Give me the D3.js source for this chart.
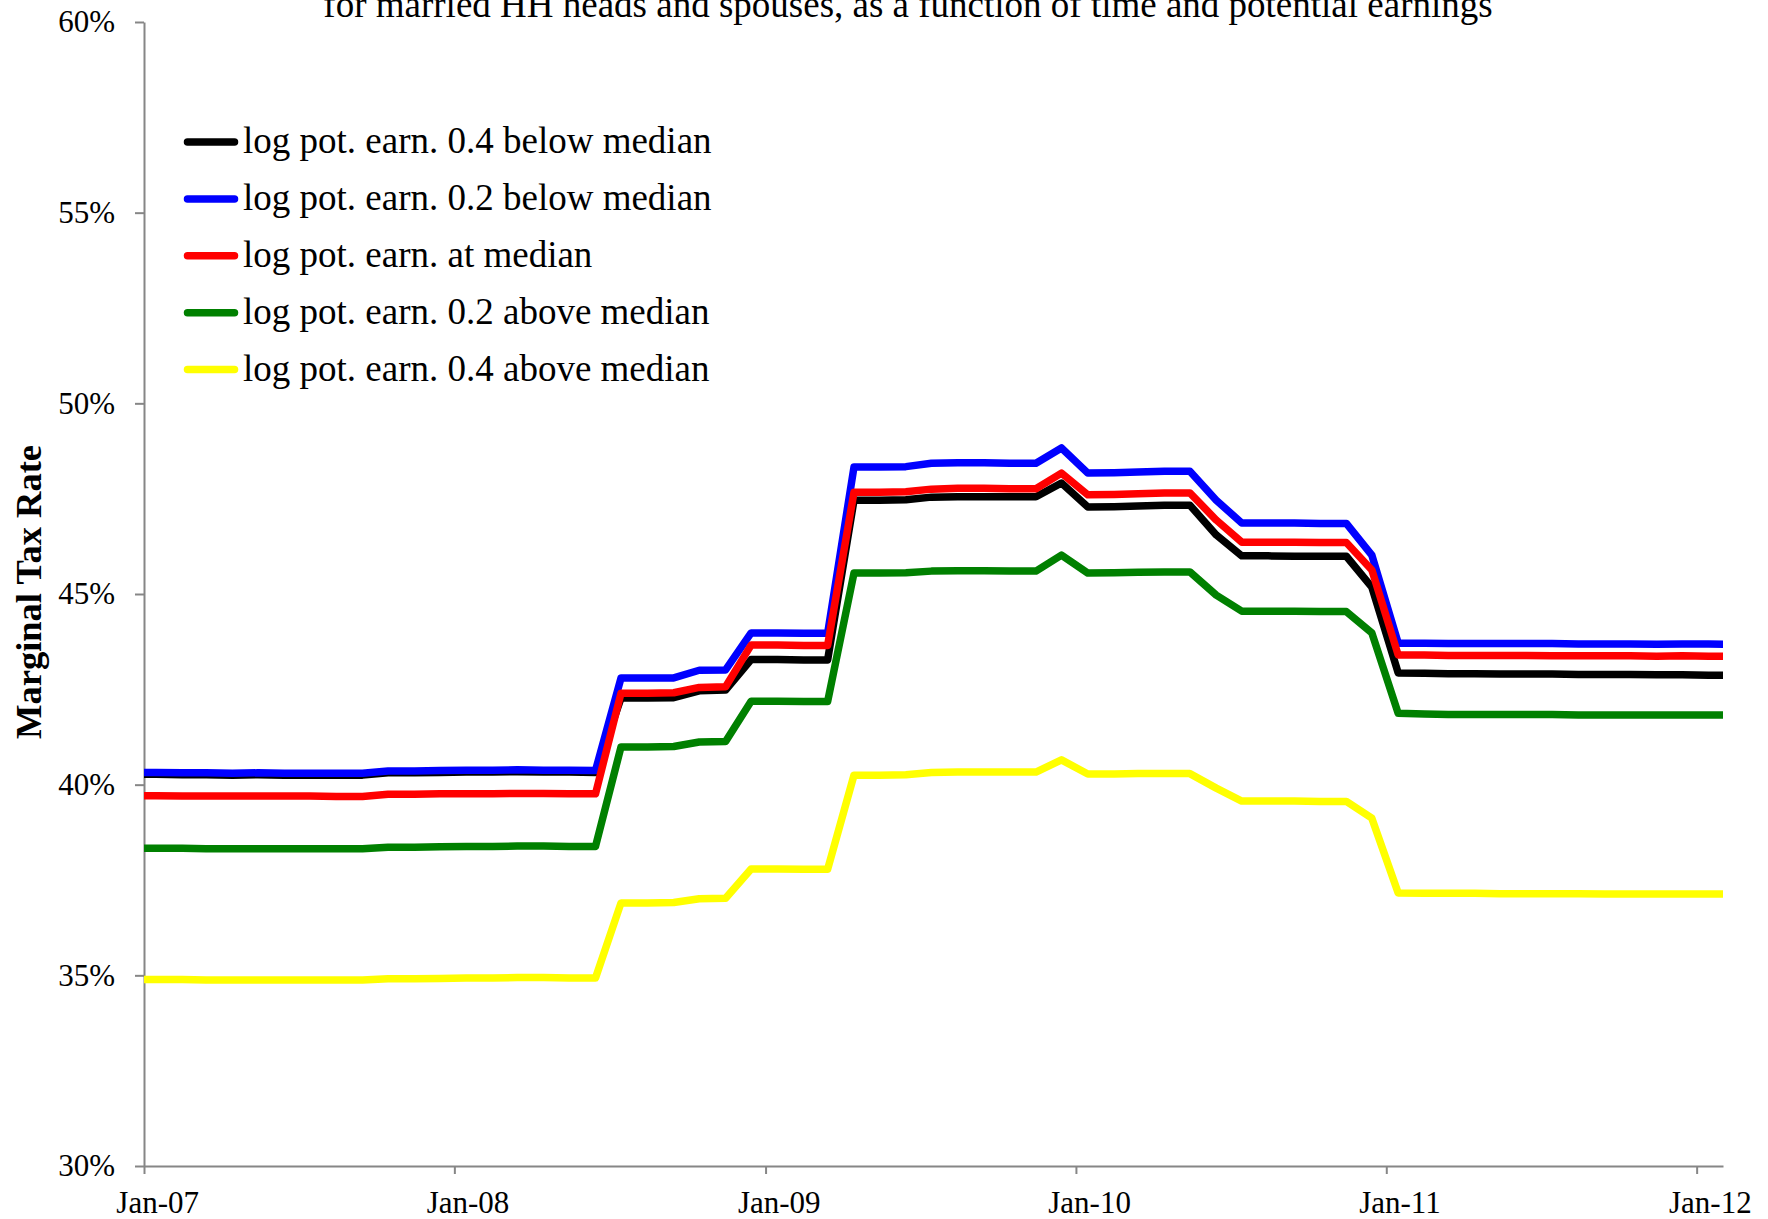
<!DOCTYPE html>
<html>
<head>
<meta charset="utf-8">
<script src="https://cdn.jsdelivr.net/npm/d3@7"></script>
<style>
  body { margin: 0; background: #fff; }
  text { font-family: "Times New Roman", "Liberation Serif", serif; }
</style>
</head>
<body>
<div id="chart"></div>
<script>
// data: monthly marginal tax rates (%), Dec-06 .. Feb-12
let months = d3.timeMonth.range(new Date(2006, 11, 1), new Date(2012, 2, 1))
    .map(d => new Date(d.getFullYear(), d.getMonth(), 15));

let seriesNames = [
    "log pot. earn. 0.4 below median",
    "log pot. earn. 0.2 below median",
    "log pot. earn. at median",
    "log pot. earn. 0.2 above median",
    "log pot. earn. 0.4 above median"
];
let seriesColors = ["#000000", "#0000ff", "#ff0000", "#008000", "#ffff00"];

let below04 = [40.27,
    40.27, 40.26, 40.26, 40.25, 40.26, 40.25, 40.25, 40.25, 40.25, 40.31, 40.31, 40.32,
    40.33, 40.33, 40.34, 40.33, 40.33, 40.32, 42.27, 42.27, 42.28, 42.46, 42.48, 43.28,
    43.28, 43.27, 43.27, 47.46, 47.46, 47.47, 47.54, 47.55, 47.55, 47.55, 47.55, 47.91,
    47.28, 47.29, 47.31, 47.33, 47.33, 46.55, 46.00, 46.00, 45.99, 45.99, 45.99, 45.18,
    42.93, 42.92, 42.91, 42.91, 42.90, 42.90, 42.90, 42.89, 42.89, 42.89, 42.88, 42.88,
    42.87, 42.87];
let below02 = [40.32,
    40.32, 40.31, 40.31, 40.30, 40.31, 40.30, 40.30, 40.30, 40.30, 40.36, 40.36, 40.37,
    40.38, 40.38, 40.39, 40.38, 40.38, 40.37, 42.80, 42.80, 42.80, 43.00, 43.01, 43.98,
    43.98, 43.97, 43.97, 48.33, 48.33, 48.34, 48.43, 48.44, 48.44, 48.43, 48.43, 48.83,
    48.17, 48.18, 48.20, 48.22, 48.22, 47.46, 46.86, 46.86, 46.86, 46.85, 46.85, 46.02,
    43.71, 43.71, 43.70, 43.70, 43.70, 43.70, 43.70, 43.69, 43.69, 43.69, 43.68, 43.69,
    43.69, 43.68];
let atMedian = [39.71,
    39.71, 39.70, 39.70, 39.70, 39.70, 39.70, 39.70, 39.69, 39.69, 39.75, 39.75, 39.76,
    39.76, 39.76, 39.77, 39.77, 39.76, 39.76, 42.40, 42.40, 42.41, 42.55, 42.57, 43.66,
    43.66, 43.65, 43.65, 47.67, 47.67, 47.68, 47.75, 47.77, 47.77, 47.76, 47.76, 48.17,
    47.60, 47.61, 47.63, 47.65, 47.65, 46.94, 46.36, 46.36, 46.36, 46.35, 46.35, 45.63,
    43.40, 43.40, 43.39, 43.39, 43.39, 43.39, 43.38, 43.38, 43.38, 43.38, 43.37, 43.38,
    43.37, 43.37];
let above02 = [38.33,
    38.33, 38.33, 38.32, 38.32, 38.32, 38.32, 38.32, 38.32, 38.32, 38.36, 38.36, 38.37,
    38.38, 38.38, 38.39, 38.39, 38.38, 38.38, 40.99, 40.99, 41.00, 41.12, 41.13, 42.19,
    42.19, 42.18, 42.18, 45.55, 45.55, 45.56, 45.60, 45.61, 45.61, 45.60, 45.60, 46.02,
    45.55, 45.56, 45.57, 45.58, 45.58, 44.97, 44.55, 44.55, 44.55, 44.54, 44.54, 43.98,
    41.87, 41.85, 41.84, 41.84, 41.84, 41.84, 41.84, 41.83, 41.83, 41.83, 41.83, 41.83,
    41.83, 41.83];
let above04 = [34.89,
    34.89, 34.89, 34.88, 34.88, 34.88, 34.88, 34.88, 34.88, 34.88, 34.91, 34.91, 34.92,
    34.93, 34.93, 34.94, 34.94, 34.93, 34.93, 36.90, 36.90, 36.91, 37.01, 37.02, 37.79,
    37.79, 37.78, 37.78, 40.25, 40.25, 40.26, 40.32, 40.33, 40.33, 40.33, 40.33, 40.65,
    40.28, 40.28, 40.29, 40.29, 40.29, 39.91, 39.57, 39.57, 39.57, 39.56, 39.56, 39.12,
    37.16, 37.15, 37.15, 37.15, 37.14, 37.14, 37.14, 37.14, 37.13, 37.13, 37.13, 37.13,
    37.13, 37.13];

let seriesValues = [below04, below02, atMedian, above02, above04];
let yTicks = [30, 35, 40, 45, 50, 55, 60];
let xTickYears = [2007, 2008, 2009, 2010, 2011, 2012];

// layout
const width = 1768, height = 1219;
const plotLeft = 144, plotRight = 1723, plotTop = 22, plotBottom = 1166;
const axisColor = '#868686';

const svg = d3.select('#chart')
    .append('svg')
    .attr('width', width)
    .attr('height', height);

const x = d3.scaleTime()
    .domain([new Date(2007, 0, 1), new Date(2012, 1, 1)])
    .range([plotLeft, plotRight]);

const y = d3.scaleLinear()
    .domain([30, 60])
    .range([plotBottom, plotTop]);

// title (top is cut off in the original)
svg.append('text')
    .attr('x', 908)
    .attr('y', 17)
    .attr('text-anchor', 'middle')
    .style('font-size', '37px')
    .text('for married HH heads and spouses, as a function of time and potential earnings');

// y axis
const yAxis = svg.append('g')
    .attr('transform', `translate(${plotLeft},0)`)
    .call(d3.axisLeft(y)
        .tickValues(yTicks)
        .tickFormat(d => d + '%')
        .tickSize(9)
        .tickSizeOuter(0)
        .tickPadding(20));

// x axis: ticks on Jan 1, labels centered in the January slot
const xAxis = svg.append('g')
    .attr('transform', `translate(0,${plotBottom})`)
    .call(d3.axisBottom(x)
        .tickValues(xTickYears.map(yr => new Date(yr, 0, 1)))
        .tickFormat(d3.timeFormat('%b-%y'))
        .tickSize(8)
        .tickSizeOuter(0)
        .tickPadding(17));

xAxis.selectAll('.tick text')
    .attr('x', d => x(new Date(d.getFullYear(), 0, 16, 12)) - x(d));

[yAxis, xAxis].forEach(g => {
    g.select('.domain').attr('stroke', axisColor).attr('stroke-width', 2);
    g.selectAll('.tick line').attr('stroke', axisColor).attr('stroke-width', 2);
    g.selectAll('.tick text')
        .attr('fill', '#000')
        .style('font-family', '"Times New Roman", "Liberation Serif", serif')
        .style('font-size', '31px');
});

// y axis title
svg.append('text')
    .attr('transform', 'translate(41,592) rotate(-90)')
    .attr('text-anchor', 'middle')
    .style('font-size', '36.5px')
    .style('font-weight', 'bold')
    .text('Marginal Tax Rate');

// lines
svg.append('clipPath')
    .attr('id', 'plotClip')
    .append('rect')
    .attr('x', plotLeft)
    .attr('y', 0)
    .attr('width', plotRight - plotLeft)
    .attr('height', height);

const line = d3.line()
    .x((d, i) => x(months[i]))
    .y(d => y(d));

svg.append('g')
    .attr('clip-path', 'url(#plotClip)')
    .selectAll('path')
    .data(seriesValues)
    .join('path')
    .attr('d', line)
    .attr('fill', 'none')
    .attr('stroke', (d, i) => seriesColors[i])
    .attr('stroke-width', 7.5)
    .attr('stroke-linejoin', 'round');

// legend
const legend = svg.append('g');
seriesNames.forEach((name, i) => {
    const ly = 142 + i * 56.9;
    legend.append('line')
        .attr('x1', 187.5)
        .attr('x2', 234.5)
        .attr('y1', ly)
        .attr('y2', ly)
        .attr('stroke', seriesColors[i])
        .attr('stroke-width', 7.5)
        .attr('stroke-linecap', 'round');
    legend.append('text')
        .attr('x', 243)
        .attr('y', ly + 11)
        .style('font-size', '37px')
        .text(name);
});
</script>
</body>
</html>
